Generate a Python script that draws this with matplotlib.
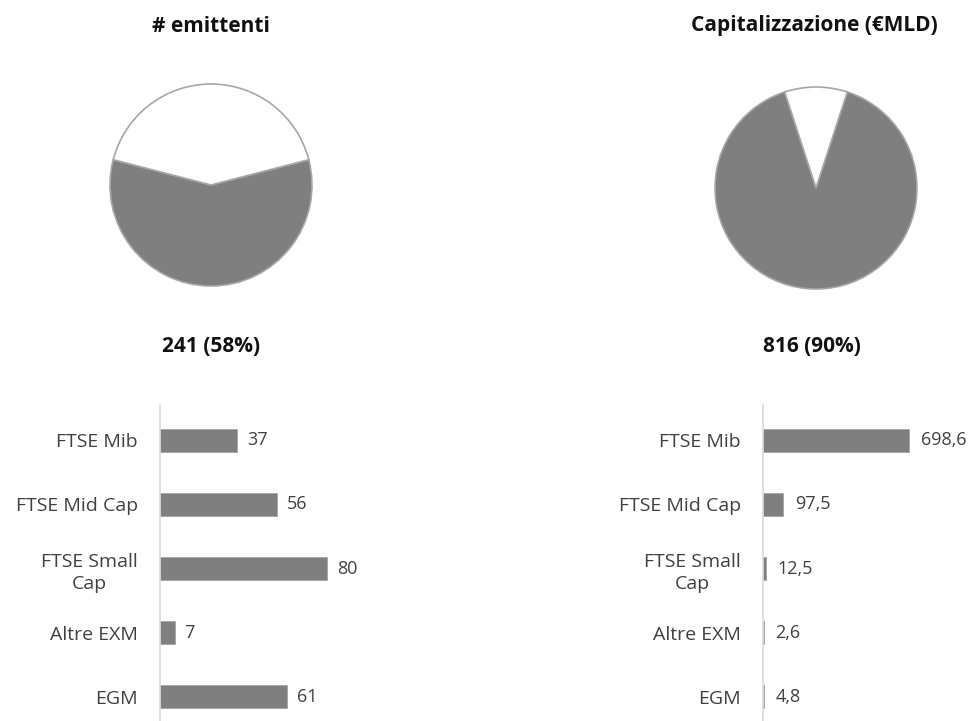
import matplotlib.pyplot as plt

# Dati
pie_titles = ["# emittenti", "Capitalizzazione (€MLD)"]
pie_labels = ["241 (58%)", "816 (90%)"]
emittenti_pie = [241, 174]
cap_pie = [816, 91]

categorie = ["FTSE Mib", "FTSE Mid Cap", "FTSE Small\nCap", "Altre EXM", "EGM"]
emittenti = [37, 56, 80, 7, 61]
capitalizzazione = [698.6, 97.5, 12.5, 2.6, 4.8]

GRIGIO = "#7f7f7f"
TESTO = "#404040"
plt.rcParams['font.family'] = ['Open Sans', 'DejaVu Sans']

W, H = 973, 721
fig = plt.figure(figsize=(W / 100, H / 100), dpi=100)


def px_axes(x0, y0, x1, y1):
    # coordinate in pixel dall'alto a sinistra
    return fig.add_axes([x0 / W, 1 - y1 / H, (x1 - x0) / W, (y1 - y0) / H])


def disegna_torta(cx, cy, r, valori, startangle):
    ax = px_axes(cx - r, cy - r, cx + r, cy + r)
    ax.pie(valori, colors=[GRIGIO, "white"], startangle=startangle, counterclock=True,
           wedgeprops=dict(edgecolor="#a6a6a6", linewidth=1.2), radius=1)
    ax.set_xlim(-1.02, 1.02)
    ax.set_ylim(-1.02, 1.02)
    ax.set_aspect("equal")
    ax.axis("off")


# torta emittenti: fetta grigia centrata in basso
frac1 = emittenti_pie[0] / sum(emittenti_pie)
disegna_torta(211, 185, 103, emittenti_pie, 270 - frac1 * 180)
# torta capitalizzazione: fetta bianca centrata in alto
frac2 = cap_pie[0] / sum(cap_pie)
disegna_torta(816, 188, 103, cap_pie, 270 - frac2 * 180)

stile_titolo = dict(ha="center", va="center", fontsize=15, fontweight="bold", color="#111111")
fig.text(211 / W, 1 - 26 / H, pie_titles[0], **stile_titolo)
fig.text(814 / W, 1 - 26 / H, pie_titles[1], **stile_titolo)
fig.text(211 / W, 1 - 347 / H, pie_labels[0], **stile_titolo)
fig.text(812 / W, 1 - 347 / H, pie_labels[1], **stile_titolo)


def disegna_barre(x0, x1, xmax, valori, fmt, pad_px):
    ax = px_axes(x0, 405, x1, 721)
    pos = range(len(categorie))
    ax.barh(pos, valori, height=0.36, color=GRIGIO, edgecolor="#a6a6a6", linewidth=0.6)
    ax.set_xlim(0, xmax)
    ax.set_ylim(4.375, -0.547)
    ax.set_yticks(list(pos))
    ax.set_yticklabels(categorie, fontsize=14, color=TESTO, linespacing=1.3,
                       multialignment="center")
    ax.tick_params(axis="y", length=0, pad=16)
    ax.set_xticks([])
    for s in ["top", "right", "bottom"]:
        ax.spines[s].set_visible(False)
    ax.spines["left"].set_color("#d9d9d9")
    ax.spines["left"].set_linewidth(1.2)
    scala = (x1 - x0) / xmax
    for p, v in zip(pos, valori):
        ax.text(v + pad_px / scala, p, fmt(v), va="center", ha="left",
                fontsize=13, color=TESTO)
    ax.patch.set_alpha(0)
    return ax


disegna_barre(160, 400, 115, emittenti, lambda v: f"{v:d}", 10)
disegna_barre(763, 973, 1005, capitalizzazione, lambda v: f"{v:.1f}".replace(".", ","), 12)

fig.savefig("out.png", dpi=100)
